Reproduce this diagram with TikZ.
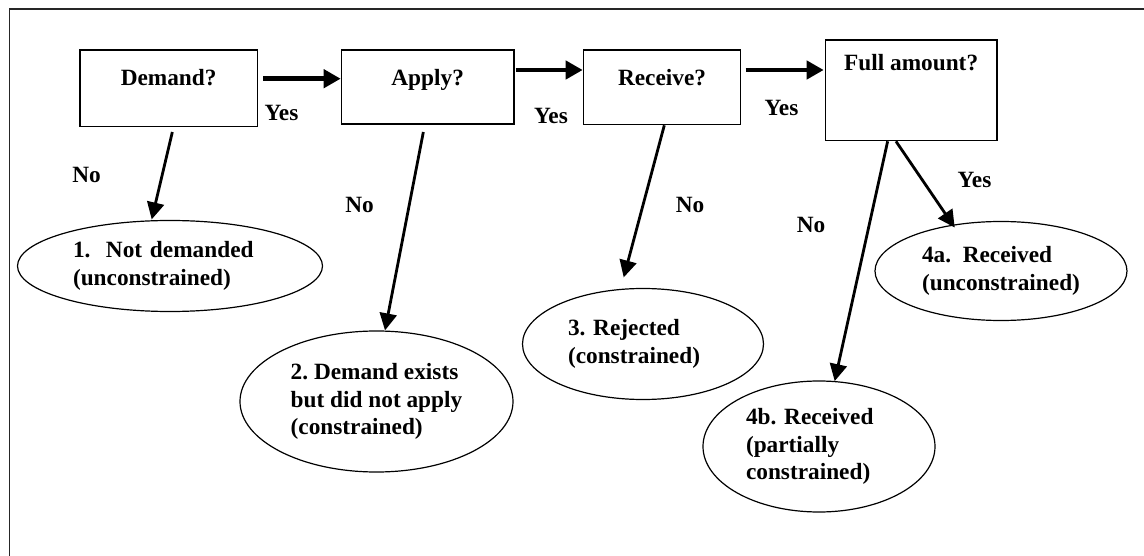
\documentclass[tikz,border=0pt]{standalone}
\usepackage{fontspec}
\setmainfont{Liberation Serif}
\usetikzlibrary{shapes.geometric,arrows.meta,calc}
\begin{document}
\frenchspacing
\begin{tikzpicture}[x=1pt,y=-1pt,
  every node/.style={font=\fontsize{23.3pt}{27.5pt}\selectfont\bfseries\frenchspacing, inner sep=0pt},
  qbox/.style={draw, line width=1.3pt, rectangle, anchor=north west},
  outcome/.style={draw, ellipse, line width=1.2pt, align=left},
  harrow/.style={line width=4.5pt, -{Triangle[length=17pt,width=18pt]}},
  darrow/.style={line width=2.8pt, -{Triangle[length=17pt,width=17pt]}},
  framel/.style={line width=1.5pt, draw=black!85}]
\useasboundingbox (0,0) rectangle (1144,556);
\draw[framel] (9.3,556) -- (9.3,9) -- (1144,9);

% decision boxes
\node[qbox, minimum width=177.4pt, text height=36pt, text depth=40.4pt] (demand) at (79.3,49.3) {Demand?};
\node[qbox, minimum width=172.6pt, text height=36pt, text depth=38pt] (apply) at (340.7,49.3) {Apply?};
\node[qbox, minimum width=157.3pt, text height=36pt, text depth=38.7pt] (receive) at (582.7,49.3) {Receive?};
\node[qbox, minimum width=171.6pt, text height=31pt, text depth=69.7pt] (full) at (824.7,39.3) {Full amount?};

% outcomes
\node[outcome, minimum width=305pt, minimum height=91pt, text width=194pt] (e1) at (170,266) {1.\ \ Not demanded\\(unconstrained)};
\node[outcome, minimum width=273pt, minimum height=141pt] (e2) at (376.5,401.5) {2. Demand exists\\but did not apply\\(constrained)};
\node[outcome, minimum width=241pt, minimum height=111pt, text width=150pt] (e3) at (643,344) {3. Rejected\\(constrained)};
\node[outcome, minimum width=252pt, minimum height=99pt] (e4a) at (1001,271) {4a.\ \ Received\\(unconstrained)};
\node[outcome, minimum width=232pt, minimum height=131pt, text width=146pt] (e4b) at (819,446.5) {4b. Received\\(partially\\constrained)};

% horizontal yes arrows
\draw[harrow] ($(demand.north east)+(5,29.4)$) -- ($(apply.north west)+(0,29.4)$);
\draw[harrow] ($(apply.north east)+(1,20.7)$) -- ($(receive.north west)+(0,20.7)$);
\draw[harrow] ($(receive.north east)+(4.3,20.7)$) -- ($(full.north west)+(-1,30.7)$);

% downward arrows
\draw[darrow] ($(demand.south)+(3.7,5)$) -- ($(e1.north)+(-18.3,-0.5)$);
\draw[darrow] ($(apply.south)+(-4.3,7.4)$) -- ($(e2.north)+(8.5,0)$);
\draw[darrow] ($(receive.south)+(2.3,0)$) -- ($(e3.north)+(-19.3,-10.5)$);
\draw[darrow] ($(full.south)+(-23.5,0)$) -- ($(e4b.north)+(15.7,0.7)$);
\draw[darrow] ($(full.south)+(-15.2,0)$) -- ($(e4a.north)+(-46.3,6.6)$);

% labels
\node (yes1) at (281.5,112.5) {Yes};
\node (yes2) at (551,116) {Yes};
\node (yes3) at (781.5,107.5) {Yes};
\node (yes4) at (974.5,179.5) {Yes};
\node (no1) at (86.5,174.5) {No};
\node (no2) at (359.5,204.5) {No};
\node (no3) at (690,204.5) {No};
\node (no4) at (811,224.5) {No};
\end{tikzpicture}
\end{document}
